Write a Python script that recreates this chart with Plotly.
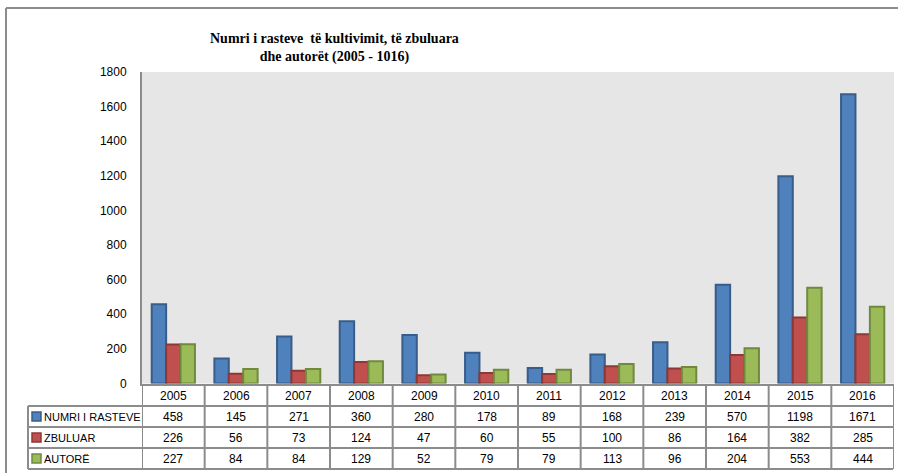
import plotly.graph_objects as go

years = ["2005", "2006", "2007", "2008", "2009", "2010", "2011", "2012", "2013", "2014", "2015", "2016"]
numri = [458, 145, 271, 360, 280, 178, 89, 168, 239, 570, 1198, 1671]
zbuluar = [226, 56, 73, 124, 47, 60, 55, 100, 86, 164, 382, 285]
autore = [227, 84, 84, 129, 52, 79, 79, 113, 96, 204, 553, 444]
series_names = ["NUMRI I RASTEVE", "ZBULUAR", "AUTORË"]
y_ticks = [0, 200, 400, 600, 800, 1000, 1200, 1400, 1600, 1800]
title_text = "Numri i rasteve  të kultivimit, të zbuluara<br>dhe autorët (2005 - 1016)"

W, H = 898, 473
fills = ["#4F81BD", "#C0504D", "#9BBB59"]
borders = ["#385D8A", "#8C3836", "#71893F"]
series = [numri, zbuluar, autore]

def py(p):
    return 1 - p / H

def px(p):
    return p / W

xs = list(range(len(years)))
fig = go.Figure()
for name, vals, fc, bc in zip(series_names, series, fills, borders):
    fig.add_trace(go.Bar(x=xs, y=vals, name=name, marker=dict(color=fc, line=dict(color=bc, width=2)),
                         showlegend=False))

plot_left, plot_right, plot_top, plot_bottom = 142, 894, 72, 383.5
fig.update_layout(
    width=W, height=H, autosize=False,
    margin=dict(l=0, r=0, t=0, b=0, pad=0, autoexpand=False),
    showlegend=False,
    paper_bgcolor="white", plot_bgcolor="#E6E6E6",
    barmode="group", bargap=0.31, bargroupgap=0,
    xaxis=dict(domain=[px(plot_left), px(plot_right)], range=[-0.5, 11.5], showticklabels=False,
               automargin=False,
               showgrid=False, zeroline=False, showline=True, linecolor="#8C8C8C", linewidth=2, ticks=""),
    yaxis=dict(domain=[py(plot_bottom), py(plot_top)], range=[0, 1800], tickvals=y_ticks,
               automargin=False,
               showgrid=False, zeroline=False, showline=True, linecolor="#8C8C8C", linewidth=2,
               ticks="", ticklabelstandoff=11,
               tickfont=dict(family="Liberation Sans, Arial", size=12, color="#000")),
    font=dict(family="Liberation Sans, Arial", size=12, color="#000"),
)

# title
fig.add_annotation(text="<b>" + title_text.replace("<br>", "</b><br><b>") + "</b>", xref="paper", yref="paper",
                   x=px(334), y=py(47.5), xanchor="center", yanchor="middle", showarrow=False, align="center",
                   font=dict(family="Liberation Serif, DejaVu Serif", size=14, color="#000"))

shapes = []
line_c = "#8C8C8C"
# outer frame
shapes.append(dict(type="line", xref="paper", yref="paper", x0=px(6), x1=1.0, y0=py(8), y1=py(8),
                   line=dict(color=line_c, width=2)))
shapes.append(dict(type="line", xref="paper", yref="paper", x0=px(6), x1=px(6), y0=py(8), y1=0,
                   line=dict(color=line_c, width=2)))

# data table grid
row_tops = [385, 406, 427, 448, 469]
tbl_right = 893
tbl_left = 28
shapes.append(dict(type="line", xref="paper", yref="paper", x0=px(plot_left), x1=px(tbl_right),
                   y0=py(row_tops[0]), y1=py(row_tops[0]), line=dict(color=line_c, width=2)))
for r in row_tops[1:]:
    shapes.append(dict(type="line", xref="paper", yref="paper", x0=px(tbl_left), x1=px(tbl_right),
                       y0=py(r), y1=py(r), line=dict(color=line_c, width=2)))
for i in range(len(years) + 1):
    shapes.append(dict(type="line", xref="x", yref="paper", x0=i - 0.5, x1=i - 0.5,
                       y0=py(row_tops[0]), y1=py(row_tops[-1]), line=dict(color=line_c, width=2)))
shapes.append(dict(type="line", xref="paper", yref="paper", x0=px(tbl_left), x1=px(tbl_left),
                   y0=py(row_tops[1]), y1=py(row_tops[-1]), line=dict(color=line_c, width=2)))

# legend keys in the table
for k, (fc, bc) in enumerate(zip(fills, borders)):
    cy = (row_tops[k + 1] + row_tops[k + 2]) / 2
    shapes.append(dict(type="rect", xref="paper", yref="paper", x0=px(32), x1=px(41),
                       y0=py(cy - 4.5), y1=py(cy + 4.5), fillcolor=fc, line=dict(color=bc, width=1.5)))
fig.update_layout(shapes=shapes)

# table header (years)
for i, yr in enumerate(years):
    fig.add_annotation(text=yr, xref="x", yref="paper", x=i, y=py((row_tops[0] + row_tops[1]) / 2),
                       xanchor="center", yanchor="middle", showarrow=False, font=dict(size=12))
# table rows
for k, (name, vals) in enumerate(zip(series_names, series)):
    cy = (row_tops[k + 1] + row_tops[k + 2]) / 2
    fig.add_annotation(text=name, xref="paper", yref="paper", x=px(42), y=py(cy), xanchor="left",
                       yanchor="middle", showarrow=False, font=dict(size=11))
    for i, v in enumerate(vals):
        fig.add_annotation(text=str(v), xref="x", yref="paper", x=i, y=py(cy),
                           xanchor="center", yanchor="middle", showarrow=False, font=dict(size=12))

fig.write_html("out.html", post_script="document.body.style.margin='0';",
               config={"displayModeBar": False})
